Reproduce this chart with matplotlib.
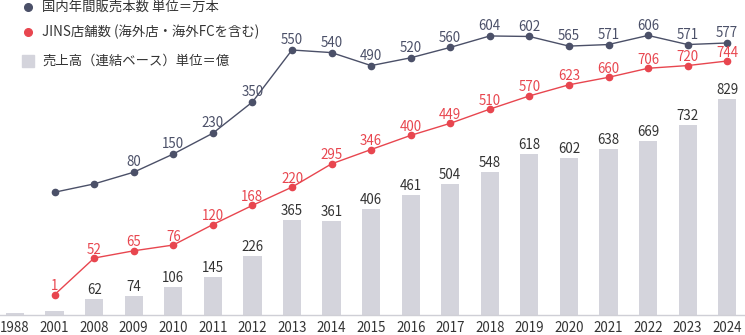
import matplotlib
matplotlib.use("Agg")
import matplotlib.pyplot as plt
import numpy as np

plt.rcParams["font.family"] = ["Noto Sans CJK JP", "DejaVu Sans"]

# ---- data ----
years = ["1988", "2001", "2008", "2009", "2010", "2011", "2012", "2013", "2014",
         "2015", "2016", "2017", "2018", "2019", "2020", "2021", "2022", "2023", "2024"]
sales = [7, 16, 62, 74, 106, 145, 226, 365, 361, 406, 461, 504, 548, 618, 602,
         638, 669, 732, 829]
sales_unlabeled = ["1988", "2001"]

line_years = years[1:]
units = [3, 35, 80, 150, 230, 350, 550, 540, 490, 520, 560, 604, 602, 565, 571,
         606, 571, 577]
units_unlabeled = ["2001", "2008"]
stores = [1, 52, 65, 76, 120, 168, 220, 295, 346, 400, 449, 510, 570, 623, 660,
          706, 720, 744]

legend_labels = ["国内年間販売本数 単位＝万本",
                 "JINS店舗数 (海外店・海外FCを含む)",
                 "売上高（連結ベース）単位＝億"]

DARK = "#4b5068"
RED = "#e8464f"
BAR = "#d4d4dc"
TEXT = "#333333"
FS = 9.6

fig = plt.figure(figsize=(7.45, 3.35), dpi=100)
fig.patch.set_facecolor("white")
ax = fig.add_axes([0, 20 / 335, 1, 315 / 335])

x = np.arange(len(years))
ax.bar(x, sales, width=0.46, color=BAR, zorder=1)
for xi, yr, v in zip(x, years, sales):
    if yr in sales_unlabeled:
        continue
    ax.annotate(str(v), (xi, v), xytext=(0, 3.6), textcoords="offset points",
                ha="center", va="baseline", fontsize=FS, color=TEXT)

ax.set_xlim(-0.38, 18.45)
ax.set_ylim(0, 1211)
ax.set_xticks(x)
ax.set_xticklabels(years, fontsize=FS, color=TEXT)
ax.tick_params(axis="x", length=0, pad=4)
ax.set_yticks([])
for side in ["top", "left", "right"]:
    ax.spines[side].set_visible(False)
ax.spines["bottom"].set_color("#cfcfd6")
ax.spines["bottom"].set_linewidth(1)

lx = np.array([years.index(y) for y in line_years])

# unit sales line
ax2 = ax.twinx()
ax2.plot(lx, units, color=DARK, lw=1, marker="o", ms=4.5, zorder=3)
for xi, yr, v in zip(lx, line_years, units):
    if yr in units_unlabeled:
        continue
    ax2.annotate(str(v), (xi, v), xytext=(0, 4.2), textcoords="offset points",
                 ha="center", va="baseline", fontsize=FS, color=DARK)
ax2.set_ylim(-469.2, 742.3)

# store count line
ax3 = ax.twinx()
ax3.set_yscale("function", functions=(lambda v: np.sqrt(np.maximum(v + 30, 0)),
                                      lambda s: s ** 2 - 30))
ax3.plot(lx, stores, color=RED, lw=1, marker="o", ms=4.5, zorder=3)
for xi, v in zip(lx, stores):
    ax3.annotate(str(v), (xi, v), xytext=(0, 3.2), textcoords="offset points",
                 ha="center", va="baseline", fontsize=FS, color=RED)
ax3.set_ylim(-16.8, 1101)

for a in (ax2, ax3):
    a.set_yticks([])
    a.set_xlim(ax.get_xlim())
    for s in a.spines.values():
        s.set_visible(False)

# legend (drawn in pixel space)
lg = fig.add_axes([0, 0, 1, 1], facecolor="none")
lg.set_xlim(0, 745)
lg.set_ylim(335, 0)
lg.axis("off")
lg.plot([28], [7], "o", color=DARK, ms=5.5)
lg.plot([28], [32], "o", color=RED, ms=5.5)
lg.plot([28], [61], "s", color=BAR, ms=8.5)
for yy, t in zip([7, 32, 61], legend_labels):
    lg.text(42, yy, t, fontsize=FS, color=TEXT, ha="left", va="center")

fig.savefig("out.png", dpi=100, facecolor="white")
